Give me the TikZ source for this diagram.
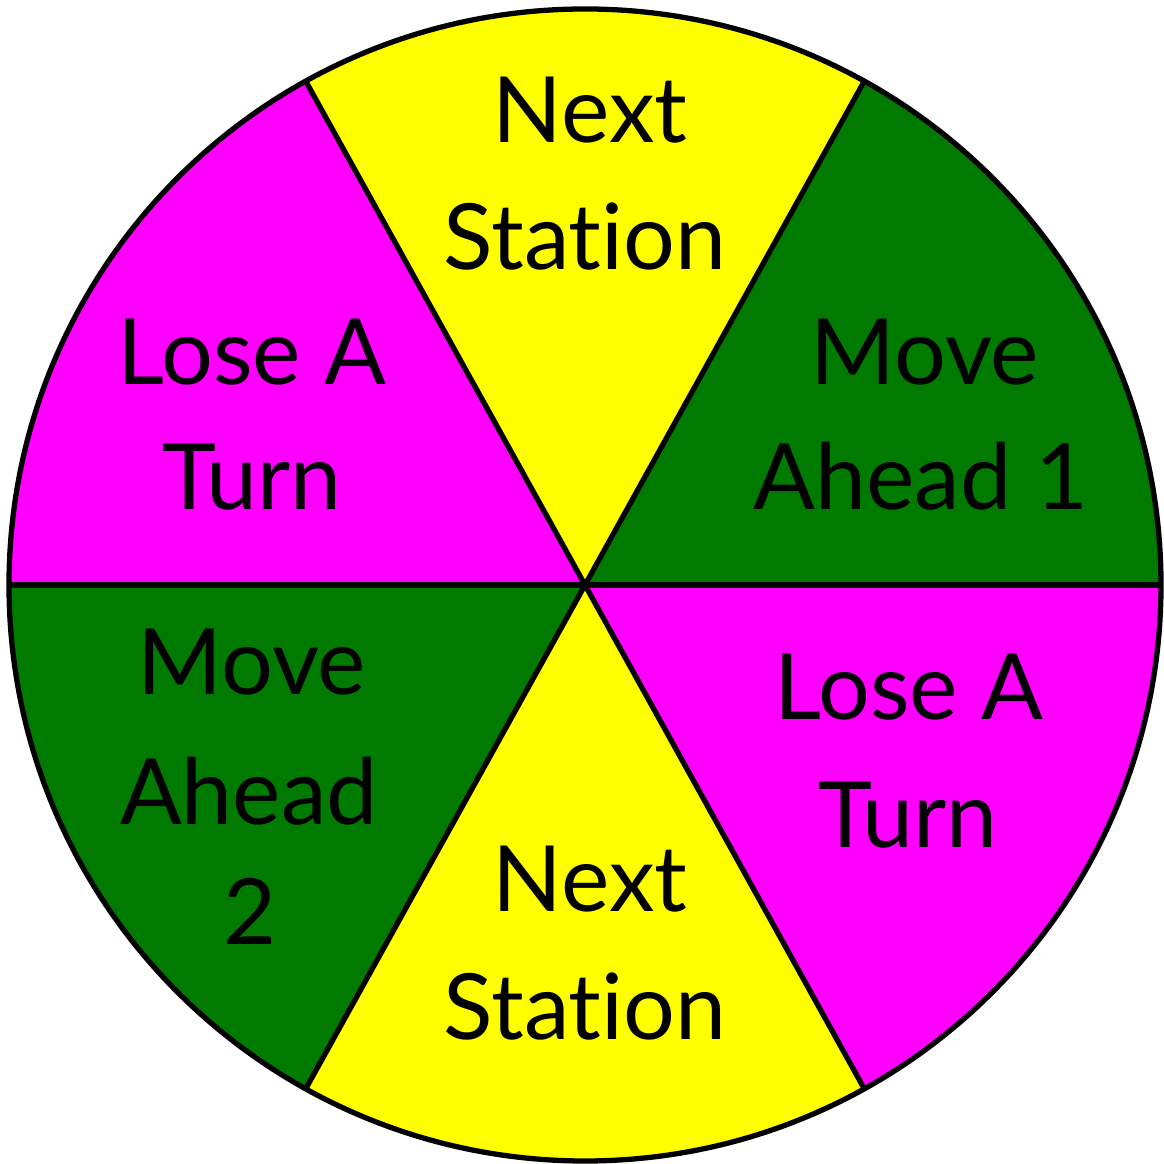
\documentclass[tikz,border=0pt]{standalone}
\usepackage{fontspec}
\setmainfont{Lato}[Ligatures=NoCommon]
\definecolor{wyellow}{RGB}{255,255,0}
\definecolor{wmagenta}{RGB}{255,0,255}
\definecolor{wgreen}{RGB}{0,122,0}
\begin{document}
\begin{tikzpicture}[x=0.01cm,y=0.01cm,
  lbl/.style={anchor=base,inner sep=0pt,font=\fontsize{26}{30}\selectfont},
  edge/.style={draw=black,line width=1.5pt}]
\useasboundingbox (0,0) rectangle (1163,1164);
\coordinate (c) at (585,579);
\def\R{576}
\fill[wgreen]   (c) -- ++(0:\R)   arc (0:61:\R)    -- cycle;
\fill[wyellow]  (c) -- ++(61:\R)  arc (61:119:\R)  -- cycle;
\fill[wmagenta] (c) -- ++(119:\R) arc (119:180:\R) -- cycle;
\fill[wgreen]   (c) -- ++(180:\R) arc (180:241:\R) -- cycle;
\fill[wyellow]  (c) -- ++(241:\R) arc (241:299:\R) -- cycle;
\fill[wmagenta] (c) -- ++(299:\R) arc (299:360:\R) -- cycle;
\foreach \a in {0,61,119,180,241,299} \draw[edge] (c) -- ++(\a:\R);
\draw[edge] (c) circle (\R);
% top
\node[lbl] (t1) at (590,1021) {Next};
\node[lbl] (t2) at (585,894) {Station};
% upper left
\node[lbl] (ul1) at (252,779) {Lose A};
\node[lbl] (ul2) at (252,654) {Turn};
% upper right
\node[lbl] (ur1) at (925,779) {Move};
\node[lbl] (ur2) at (921,654) {Ahead 1};
% lower left
\node[lbl] (ll1) at (252,469) {Move};
\node[lbl] (ll2) at (249,339) {Ahead};
\node[lbl] (ll3) at (250,219) {2};
% bottom
\node[lbl] (b1) at (590,252) {Next};
\node[lbl] (b2) at (585,124) {Station};
% lower right
\node[lbl] (lr1) at (909,444) {Lose A};
\node[lbl] (lr2) at (908,316) {Turn};
\end{tikzpicture}
\end{document}
